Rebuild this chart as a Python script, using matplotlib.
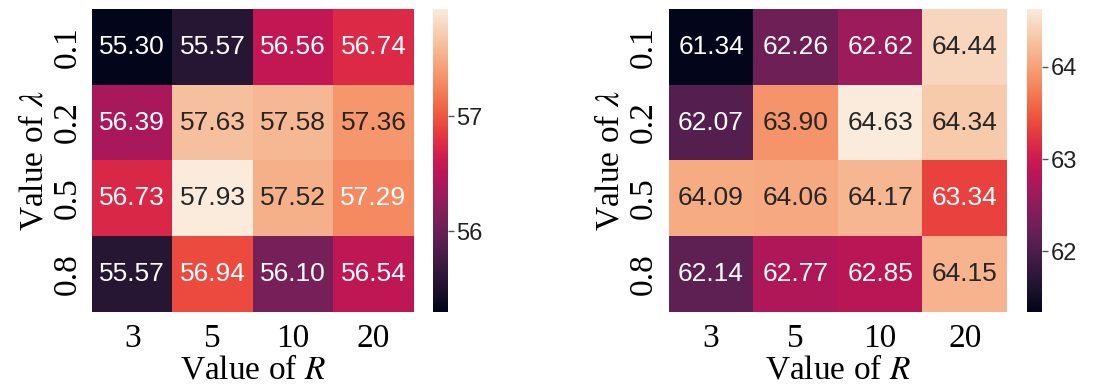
import numpy as np
import matplotlib
matplotlib.use("Agg")
import matplotlib.pyplot as plt
from matplotlib.ticker import MultipleLocator
import seaborn as sns

R_values = ["3", "5", "10", "20"]
lambda_values = ["0.1", "0.2", "0.5", "0.8"]

left_scores = [
    [55.30, 55.57, 56.56, 56.74],
    [56.39, 57.63, 57.58, 57.36],
    [56.73, 57.93, 57.52, 57.29],
    [55.57, 56.94, 56.10, 56.54],
]
right_scores = [
    [61.34, 62.26, 62.62, 64.44],
    [62.07, 63.90, 64.63, 64.34],
    [64.09, 64.06, 64.17, 63.34],
    [62.14, 62.77, 62.85, 64.15],
]

plt.rcParams["mathtext.fontset"] = "stix"

fig = plt.figure(figsize=(11.09, 3.87), dpi=100)

specs = [
    (left_scores, [0.083, 0.194, 0.290, 0.783], [0.390, 0.194, 0.014, 0.783]),
    (right_scores, [0.603, 0.194, 0.305, 0.783], [0.926, 0.194, 0.014, 0.783]),
]

for data, axpos, cpos in specs:
    ax = fig.add_axes(axpos)
    cax = fig.add_axes(cpos)
    arr = np.array(data)
    sns.heatmap(arr, ax=ax, cbar_ax=cax, cmap="rocket", annot=True, fmt=".2f",
                annot_kws={"fontsize": 19, "family": "Liberation Sans"},
                xticklabels=R_values, yticklabels=lambda_values)
    ax.set_xticklabels(R_values, fontsize=24, family="Liberation Serif", rotation=0)
    ax.set_yticklabels(lambda_values, fontsize=24, family="Liberation Serif",
                       rotation=90, va="center")
    ax.tick_params(axis="x", length=0, pad=8)
    ax.tick_params(axis="y", length=0, pad=7)
    ax.set_xlabel("Value of $R$", fontsize=24, family="Liberation Serif", labelpad=1)
    ax.set_ylabel("Value of $\\lambda$", fontsize=24, family="Liberation Serif", labelpad=2)
    cax.yaxis.set_major_locator(MultipleLocator(1))
    cax.tick_params(labelsize=17, length=4, width=1, color="#555555", pad=2)
    for t in cax.get_yticklabels():
        t.set_family("Liberation Sans")
        t.set_color("#222222")
    for sp in cax.spines.values():
        sp.set_visible(False)

fig.savefig("out.png", dpi=100)
